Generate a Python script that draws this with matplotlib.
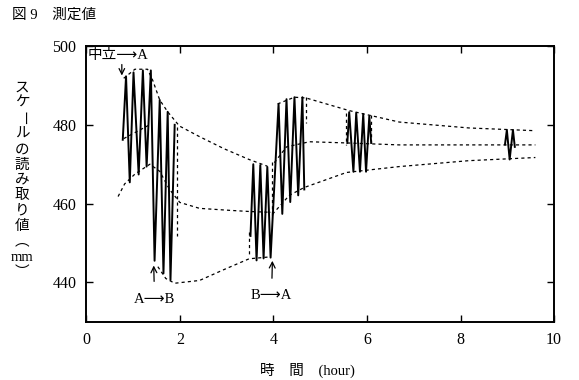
import matplotlib
matplotlib.use('Agg')
import matplotlib.pyplot as plt

plt.rcParams['font.family'] = ['Liberation Serif', 'Noto Sans CJK JP', 'DejaVu Sans']

# pen trace: neutral -> A, then A -> B  (time h, reading mm)
trace1_t = [0.78, 0.85, 0.93, 1.01, 1.12, 1.21, 1.29, 1.38, 1.46, 1.57, 1.65, 1.74, 1.80, 1.89]
trace1_v = [476.2, 492.3, 465.4, 493.3, 467.4, 493.8, 469.4, 493.8, 445.5, 486.3, 442.3, 483.3, 440.6, 480.0]

# pen trace: state B, then B -> A
trace2_t = [3.51, 3.57, 3.64, 3.72, 3.79, 3.87, 3.94, 4.11, 4.19, 4.28, 4.36, 4.45, 4.53, 4.62, 4.66]
trace2_v = [451.8, 470.0, 445.6, 469.8, 446.1, 469.3, 446.3, 485.3, 457.4, 486.5, 460.4, 487.0, 462.1, 487.0, 463.6]

# later checks
trace3_t = [5.58, 5.62, 5.71, 5.77, 5.85, 5.92, 5.98, 6.05, 6.09]
trace3_v = [475.4, 483.2, 468.1, 483.0, 468.1, 482.7, 468.1, 482.2, 475.4]
trace4_t = [8.95, 8.99, 9.05, 9.12, 9.16]
trace4_v = [475.0, 478.7, 471.2, 478.7, 474.4]

# dashed envelopes / equilibrium curves
up1_t = [0.80, 1.04, 1.31, 1.42, 1.57, 1.74, 1.99, 2.42, 2.95, 3.48, 3.87]
up1_v = [491.8, 494.1, 494.1, 491.3, 486.3, 483.3, 479.7, 477.0, 473.9, 471.2, 469.5]
mid1_t = [0.80, 1.40]
mid1_v = [476.5, 480.3]
low1_t = [0.68, 0.82, 1.04, 1.36, 1.57, 1.78, 2.00, 2.42, 3.06, 3.49, 3.95]
low1_v = [461.8, 465.0, 467.5, 470.0, 468.2, 463.6, 460.3, 458.8, 458.3, 458.0, 457.8]
bot1_t = [1.53, 1.70, 1.89, 2.42, 2.95, 3.48, 3.94]
bot1_v = [444.0, 441.0, 439.8, 440.5, 443.3, 446.0, 446.5]

up2_t = [4.09, 4.45, 4.70, 5.62, 6.69, 8.18, 9.60]
up2_v = [485.3, 487.0, 486.8, 483.6, 480.7, 479.2, 478.5]
mid2_t = [4.02, 4.28, 4.77, 5.56, 6.69, 9.60]
mid2_v = [470.4, 474.4, 475.7, 475.4, 474.9, 474.9]
low2_t = [3.98, 4.34, 4.66, 5.56, 6.69, 8.18, 9.60]
low2_v = [457.3, 462.1, 464.1, 467.9, 469.4, 470.9, 471.7]

# faint dashed pen strokes (time, from, to)
faint_t = [1.93, 3.47, 3.98, 4.70, 5.56, 6.09]
faint_v0 = [479.5, 452.8, 470.6, 487.0, 483.0, 482.6]
faint_v1 = [451.8, 446.7, 456.5, 480.5, 475.0, 475.4]

fig = plt.figure(figsize=(5.79, 3.80), dpi=100)
ax = fig.add_axes([0.149, 0.153, 0.808, 0.726])

for t, v in [(trace1_t, trace1_v), (trace2_t, trace2_v), (trace3_t, trace3_v), (trace4_t, trace4_v)]:
    ax.plot(t, v, color='black', lw=1.4, solid_joinstyle='round')

dash = dict(color='black', lw=0.9, linestyle=(0, (2.5, 2.5)))
for t, v in [(up1_t, up1_v), (mid1_t, mid1_v), (low1_t, low1_v), (bot1_t, bot1_v),
             (up2_t, up2_v), (mid2_t, mid2_v), (low2_t, low2_v)]:
    ax.plot(t, v, **dash)
ax.vlines(faint_t, faint_v0, faint_v1, **dash)

arrow = dict(arrowstyle='->', color='black', lw=0.9)
ax.text(0.03, 497.6, '中立⟶A', fontsize=10.5, ha='left', va='center')
ax.annotate('', xy=(0.76, 491.8), xytext=(0.76, 496.0), arrowprops=arrow)
ax.annotate('A⟶B', xy=(1.44, 445.0), xytext=(1.46, 435.8), ha='center', va='center',
            fontsize=10.5, arrowprops=dict(arrowstyle='->', color='black', lw=0.9, shrinkA=6))
ax.annotate('B⟶A', xy=(3.98, 446.2), xytext=(3.96, 436.6), ha='center', va='center',
            fontsize=10.5, arrowprops=dict(arrowstyle='->', color='black', lw=0.9, shrinkA=6))

ax.set_xlim(0, 10)
ax.set_ylim(430, 500)
ax.set_xticks([0, 2, 4, 6, 8, 10])
ax.set_yticks([440, 460, 480, 500])
ax.tick_params(direction='in', length=5, width=1, top=True, right=True, labelsize=11.5, pad=7)
for s in ax.spines.values():
    s.set_linewidth(1.4)

ax.set_xlabel('時　間　(hour)', fontsize=10.5, labelpad=7)
ax.xaxis.set_label_coords(0.472, -0.15)

ylabel = ['ス', 'ケ', 'ー', 'ル', 'の', '読', 'み', '取', 'り', '値', '︵', 'mm', '︶']
y0 = 1 - 88 / 380
for i, ch in enumerate(ylabel):
    rot = -90 if ch == 'ー' else 0
    fig.text(22 / 579, y0 - i * 15.4 / 380, ch, fontsize=10.5, ha='center', va='center', rotation=rot)

fig.text(12 / 579, 1 - 15 / 380, '図 9　測定値', fontsize=10.5, ha='left', va='center')

fig.savefig('out.png', dpi=100)
